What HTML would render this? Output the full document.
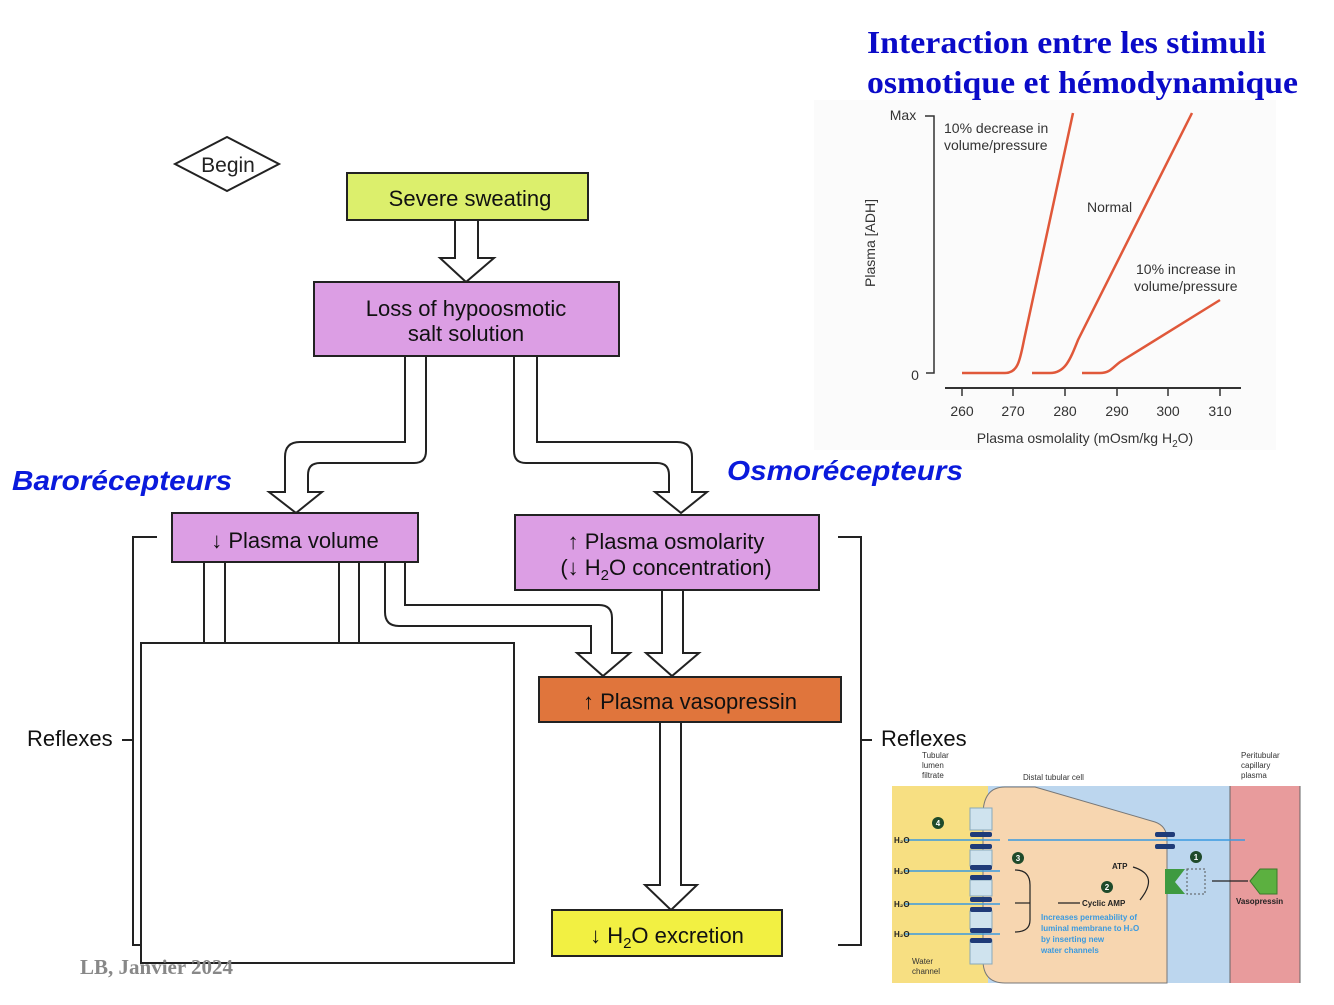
<!DOCTYPE html>
<html><head><meta charset="utf-8"><style>
html,body{margin:0;padding:0;background:#fff;}
svg{display:block;}
text{font-family:"Liberation Sans",sans-serif;}
</style></head><body>
<svg width="1334" height="1005" viewBox="0 0 1334 1005" xmlns="http://www.w3.org/2000/svg">
<!-- Title -->
<text x="867" y="53" font-weight="bold" font-size="32" fill="#0a0ac8" textLength="399" lengthAdjust="spacingAndGlyphs" style="font-family:'Liberation Serif',serif">Interaction entre les stimuli</text>
<text x="867" y="93" font-weight="bold" font-size="32" fill="#0a0ac8" textLength="431" lengthAdjust="spacingAndGlyphs" style="font-family:'Liberation Serif',serif">osmotique et hémodynamique</text>

<!-- Graph -->
<rect x="814" y="100" width="462" height="350" fill="#fbfbfb"/>
<path d="M925,116 H934 V373 H926" fill="none" stroke="#333" stroke-width="1.5"/>
<line x1="945" y1="388" x2="1241" y2="388" stroke="#333" stroke-width="2"/>
<g stroke="#333" stroke-width="1.5">
<line x1="962" y1="388" x2="962" y2="396"/><line x1="1013" y1="388" x2="1013" y2="396"/><line x1="1065" y1="388" x2="1065" y2="396"/><line x1="1117" y1="388" x2="1117" y2="396"/><line x1="1168" y1="388" x2="1168" y2="396"/><line x1="1220" y1="388" x2="1220" y2="396"/>
</g>
<g font-size="14" fill="#333" text-anchor="middle">
<text x="962" y="416">260</text><text x="1013" y="416">270</text><text x="1065" y="416">280</text><text x="1117" y="416">290</text><text x="1168" y="416">300</text><text x="1220" y="416">310</text>
</g>
<text x="1085" y="443" font-size="14" fill="#333" text-anchor="middle">Plasma osmolality (mOsm/kg H<tspan font-size="10" dy="4">2</tspan><tspan dy="-4">O)</tspan></text>
<text x="903" y="120" font-size="14" fill="#333" text-anchor="middle">Max</text>
<text x="915" y="380" font-size="14" fill="#333" text-anchor="middle">0</text>
<text transform="translate(875,243) rotate(-90)" font-size="14" fill="#333" text-anchor="middle">Plasma [ADH]</text>
<text x="944" y="133" font-size="14" fill="#333">10% decrease in</text>
<text x="944" y="150" font-size="14" fill="#333">volume/pressure</text>
<text x="1087" y="212" font-size="14" fill="#333">Normal</text>
<text x="1136" y="274" font-size="14" fill="#333">10% increase in</text>
<text x="1134" y="291" font-size="14" fill="#333">volume/pressure</text>
<g fill="none" stroke="#e0583a" stroke-width="2.5">
<path d="M962,373 H1005 C1018,373 1020,360 1024,340 L1073,113"/>
<path d="M1032,373 H1050 C1065,373 1070,360 1078,340 L1192,113"/>
<path d="M1082,373 H1100 C1110,373 1112,368 1120,362 L1220,300"/>
</g>

<!-- Begin diamond -->
<polygon points="175,164 227,137 279,164 227,191" fill="#fff" stroke="#222" stroke-width="2"/>
<text x="228" y="172" font-size="21" text-anchor="middle" fill="#222">Begin</text>

<!-- Hollow arrows -->
<g fill="#fff" stroke="#222" stroke-width="2" stroke-linejoin="miter">
<path d="M455,220 V258 H440 L466,282 L494,258 H478 V220 Z"/>
<path d="M405,356 V442 H300 Q285,442 285,457 V492 H269 L296,513 L322,492 H308 V475 Q308,463 320,463 H414 Q426,463 426,451 V356 Z"/>
<path d="M514,356 V451 Q514,463 526,463 H657 Q669,463 669,475 V492 H655 L681,513 L707,492 H692 V457 Q692,442 677,442 H537 V356 Z"/>
<path d="M385,562 V612 Q385,626 399,626 H591 V653 H577 L603,676 L630,653 H612 V618 Q612,605 599,605 H405 V562 Z"/>
<path d="M662,590 V653 H646 L672,676 L699,653 H683 V590 Z"/>
<path d="M660,722 V885 H645 L671,910 L697,885 H681 V722 Z"/>
</g>
<g stroke="#222" stroke-width="2">
<line x1="204" y1="562" x2="204" y2="643"/><line x1="225" y1="562" x2="225" y2="643"/>
<line x1="339" y1="562" x2="339" y2="643"/><line x1="359" y1="562" x2="359" y2="643"/>
</g>

<!-- Boxes -->
<rect x="347" y="173" width="241" height="47" fill="#dcef6c" stroke="#222" stroke-width="2"/>
<text x="470" y="206" font-size="22" text-anchor="middle" fill="#111">Severe sweating</text>
<rect x="314" y="282" width="305" height="74" fill="#dc9ee4" stroke="#222" stroke-width="2"/>
<text x="466" y="316" font-size="22" text-anchor="middle" fill="#111">Loss of hypoosmotic</text>
<text x="466" y="341" font-size="22" text-anchor="middle" fill="#111">salt solution</text>
<rect x="172" y="513" width="246" height="49" fill="#dc9ee4" stroke="#222" stroke-width="2"/>
<text x="295" y="548" font-size="22" text-anchor="middle" fill="#111">↓ Plasma volume</text>
<rect x="515" y="515" width="304" height="75" fill="#dc9ee4" stroke="#222" stroke-width="2"/>
<text x="666" y="549" font-size="22" text-anchor="middle" fill="#111">↑ Plasma osmolarity</text>
<text x="666" y="575" font-size="22" text-anchor="middle" fill="#111">(↓ H<tspan font-size="15" dy="5">2</tspan><tspan dy="-5">O concentration)</tspan></text>
<rect x="539" y="677" width="302" height="45" fill="#e0753c" stroke="#222" stroke-width="2"/>
<text x="690" y="709" font-size="22" text-anchor="middle" fill="#111">↑ Plasma vasopressin</text>
<rect x="552" y="910" width="230" height="46" fill="#f2f042" stroke="#222" stroke-width="2"/>
<text x="667" y="943" font-size="22" text-anchor="middle" fill="#111">↓ H<tspan font-size="15" dy="5">2</tspan><tspan dy="-5">O excretion</tspan></text>

<!-- Brackets -->
<path d="M157,537 H133 V945 H141" fill="none" stroke="#222" stroke-width="2"/>
<line x1="122" y1="740" x2="133" y2="740" stroke="#222" stroke-width="2"/>
<text x="27" y="746" font-size="22" fill="#111">Reflexes</text>
<path d="M838,537 H861 V945 H838" fill="none" stroke="#222" stroke-width="2"/>
<line x1="861" y1="740" x2="872" y2="740" stroke="#222" stroke-width="2"/>
<text x="881" y="746" font-size="22" fill="#111">Reflexes</text>

<!-- White box -->
<rect x="141" y="643" width="373" height="320" fill="#fff" stroke="#222" stroke-width="2"/>

<!-- Receptor labels -->
<text x="12" y="490" font-size="28" font-weight="bold" font-style="italic" fill="#0a1adc" textLength="220" lengthAdjust="spacingAndGlyphs">Barorécepteurs</text>
<text x="727" y="480" font-size="28" font-weight="bold" font-style="italic" fill="#0a1adc" textLength="236" lengthAdjust="spacingAndGlyphs">Osmorécepteurs</text>

<text x="80" y="974" font-size="21" font-weight="bold" fill="#888" style="font-family:'Liberation Serif',serif">LB, Janvier 2024</text>

<!-- Cell diagram -->
<rect x="892" y="786" width="96" height="197" fill="#f7df82"/>
<rect x="988" y="786" width="242" height="197" fill="#bcd6ee"/>
<rect x="1230" y="786" width="70" height="197" fill="#e89b9c"/>
<line x1="1230" y1="786" x2="1230" y2="983" stroke="#666"/>
<line x1="1300" y1="786" x2="1300" y2="983" stroke="#666"/>
<path d="M983,815 Q983,787 1005,787 H1035 L1155,822 Q1167,826 1167,840 V983 H1005 Q983,983 983,960 Z" fill="#f7d6b0" stroke="#777" stroke-width="1"/>
<g fill="#cfe3ee" stroke="#8ab">
<rect x="970" y="808" width="22" height="22"/><rect x="970" y="850" width="22" height="16"/><rect x="970" y="880" width="22" height="16"/><rect x="970" y="911" width="22" height="18"/><rect x="970" y="940" width="22" height="24"/>
</g>
<g fill="#1f3b78">
<rect x="970" y="832" width="22" height="5" rx="2"/><rect x="970" y="844" width="22" height="5" rx="2"/>
<rect x="970" y="865" width="22" height="5" rx="2"/><rect x="970" y="875" width="22" height="5" rx="2"/>
<rect x="970" y="897" width="22" height="5" rx="2"/><rect x="970" y="907" width="22" height="5" rx="2"/>
<rect x="970" y="928" width="22" height="5" rx="2"/><rect x="970" y="938" width="22" height="5" rx="2"/>
<rect x="1155" y="832" width="20" height="5" rx="2"/><rect x="1155" y="844" width="20" height="5" rx="2"/>
</g>
<g stroke="#3a9ae0" stroke-width="1.5">
<line x1="905" y1="840" x2="1000" y2="840"/><line x1="1008" y1="840" x2="1245" y2="840"/>
<line x1="905" y1="871" x2="1000" y2="871"/><line x1="905" y1="904" x2="1000" y2="904"/><line x1="905" y1="934" x2="1000" y2="934"/>
</g>
<g font-size="8" font-weight="bold" fill="#222">
<text x="894" y="843">H₂O</text><text x="894" y="874">H₂O</text><text x="894" y="907">H₂O</text><text x="894" y="937">H₂O</text>
<text x="1112" y="869">ATP</text><text x="1082" y="906">Cyclic AMP</text><text x="1236" y="904">Vasopressin</text>
</g>
<g font-size="8" fill="#333">
<text x="922" y="758">Tubular</text><text x="922" y="768">lumen</text><text x="922" y="778">filtrate</text>
<text x="1023" y="780">Distal tubular cell</text>
<text x="1241" y="758">Peritubular</text><text x="1241" y="768">capillary</text><text x="1241" y="778">plasma</text>
<text x="912" y="964">Water</text><text x="912" y="974">channel</text>
</g>
<g font-size="8" font-weight="bold" fill="#3a9ae0">
<text x="1041" y="920">Increases permeability of</text><text x="1041" y="931">luminal membrane to H₂O</text><text x="1041" y="942">by inserting new</text><text x="1041" y="953">water channels</text>
</g>
<g fill="#1f4a2a"><circle cx="938" cy="823" r="6"/><circle cx="1018" cy="858" r="6"/><circle cx="1107" cy="887" r="6"/><circle cx="1196" cy="857" r="6"/></g>
<g fill="#fff" font-size="8" font-weight="bold" text-anchor="middle"><text x="938" y="826">4</text><text x="1018" y="861">3</text><text x="1107" y="890">2</text><text x="1196" y="860">1</text></g>
<path d="M1165,869 H1185 L1175,882 L1185,894 H1165 Z" fill="#3e9a40"/>
<rect x="1187" y="869" width="18" height="25" fill="none" stroke="#555" stroke-dasharray="2,2"/>
<path d="M1250,881 L1260,869 H1277 V894 H1260 Z" fill="#5cb040" stroke="#3a7a2a"/>
<g stroke="#222" stroke-width="1.2" fill="none">
<line x1="1248" y1="881" x2="1212" y2="881"/>
<path d="M1133,867 Q1160,875 1140,900"/>
<line x1="1080" y1="903" x2="1058" y2="903"/>
<path d="M1015,870 Q1030,870 1030,885 V920 Q1030,932 1015,932"/>
<line x1="1030" y1="903" x2="1015" y2="903"/>
</g>
</svg>
</body></html>
